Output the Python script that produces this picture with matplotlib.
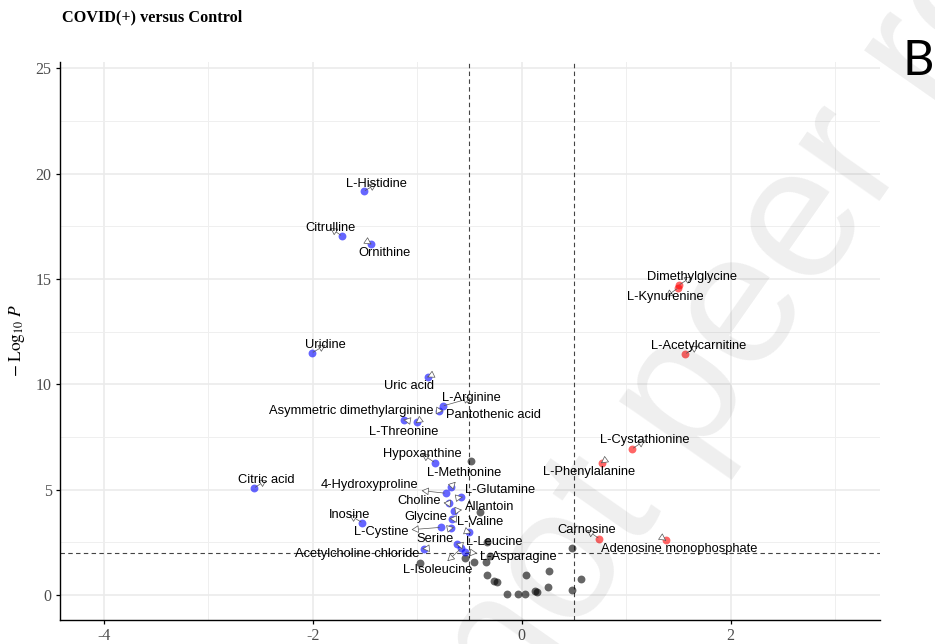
import matplotlib.pyplot as plt
import numpy as np

plt.rcParams['mathtext.fontset'] = 'stix'
plt.rcParams['axes.unicode_minus'] = False

# metabolites lower in COVID(+) (blue), higher (red), and not significant (grey)
down_names = ['L-Histidine', 'Citrulline', 'Ornithine', 'Uridine', 'Uric acid',
              'L-Arginine', 'Pantothenic acid', 'Asymmetric dimethylarginine',
              'L-Threonine', 'Hypoxanthine', 'Citric acid', 'L-Methionine',
              '4-Hydroxyproline', 'L-Glutamine', 'Choline', 'Allantoin', 'Glycine',
              'L-Valine', 'L-Cystine', 'Inosine', 'Serine', 'L-Leucine',
              'Acetylcholine chloride', 'L-Isoleucine', 'L-Asparagine']
down_fc = [-1.509, -1.72, -1.442, -2.007, -0.897, -0.756, -0.788, -1.126, -0.999,
           -0.83, -2.56, -0.677, -0.727, -0.58, -0.693, -0.645, -0.667, -0.674,
           -0.775, -1.525, -0.616, -0.507, -0.932, -0.581, -0.543]
down_logp = [19.17, 17.04, 16.66, 11.49, 10.35, 8.97, 8.75, 8.31, 8.21, 6.28, 5.08,
             5.14, 4.83, 4.64, 4.35, 4.0, 3.62, 3.18, 3.21, 3.43, 2.41, 2.98, 2.20,
             2.21, 2.04]

up_names = ['Dimethylglycine', 'L-Kynurenine', 'L-Acetylcarnitine', 'L-Cystathionine',
            'L-Phenylalanine', 'Carnosine', 'Adenosine monophosphate']
up_fc = [1.502, 1.496, 1.566, 1.058, 0.766, 0.743, 1.378]
up_logp = [14.70, 14.57, 11.44, 6.94, 6.28, 2.67, 2.60]

ns_fc = [-0.485, -0.396, -0.335, 0.484, -0.973, -0.543, -0.454, -0.342, -0.30,
         -0.335, -0.262, -0.24, 0.041, 0.264, -0.144, -0.032, 0.034, 0.127, 0.149,
         0.255, 0.484, 0.57]
ns_logp = [6.36, 3.95, 2.50, 2.25, 1.53, 1.77, 1.57, 1.55, 1.85, 0.95, 0.68, 0.62,
           0.96, 1.12, 0.03, 0.03, 0.03, 0.19, 0.16, 0.39, 0.24, 0.74]

fc_cut = 0.5
p_cut = 2.0

# label positions (data coordinates), same order as the names
down_text = [(-1.389, 19.51), (-1.83, 17.42), (-1.313, 16.23), (-1.877, 11.87),
             (-1.078, 9.92), (-0.485, 9.35), (-0.27, 8.54), (-1.633, 8.73),
             (-1.126, 7.74), (-0.954, 6.69), (-2.442, 5.46), (-0.552, 5.79),
             (-1.452, 5.22), (-0.203, 4.98), (-0.983, 4.48), (-0.308, 4.18),
             (-0.921, 3.70), (-0.40, 3.46), (-1.342, 2.99), (-1.648, 3.80),
             (-0.833, 2.66), (-0.258, 2.52), (-1.571, 1.95), (-0.801, 1.19),
             (-0.033, 1.80)]
up_text = [(1.627, 15.11), (1.378, 14.16), (1.69, 11.83), (1.18, 7.34),
           (0.644, 5.84), (0.625, 3.08), (1.505, 2.17)]

fig = plt.figure(figsize=(9.35, 6.44), dpi=100)
ax = fig.add_axes([60 / 935, 24 / 644, 820 / 935, 558 / 644])

ax.set_xlim(-4.418, 3.429)
ax.set_ylim(-1.187, 25.30)
ax.set_xticks([-4, -2, 0, 2])
ax.set_xticks([-3, -1, 1, 3], minor=True)
ax.set_yticks(np.arange(0, 26, 5))
ax.set_yticks(np.arange(2.5, 25, 5), minor=True)
ax.grid(which='major', color='#ebebeb', lw=1.2, zorder=0)
ax.grid(which='minor', color='#efefef', lw=0.7, zorder=0)
ax.set_axisbelow(True)

for side in ['top', 'right']:
    ax.spines[side].set_visible(False)
for side in ['left', 'bottom']:
    ax.spines[side].set_linewidth(1.0)
ax.tick_params(which='major', length=3, width=0.9, color='black',
               labelsize=11.5, labelcolor='#4d4d4d', pad=3)
ax.tick_params(which='minor', length=0)
for lab in ax.get_xticklabels() + ax.get_yticklabels():
    lab.set_family('Liberation Serif')

ax.axvline(-fc_cut, color='#444444', lw=0.8, ls=(0, (4, 3)), zorder=1)
ax.axvline(fc_cut, color='#444444', lw=0.8, ls=(0, (4, 3)), zorder=1)
ax.axhline(p_cut, color='#444444', lw=0.8, ls=(0, (4, 3)), zorder=1)

ax.scatter(ns_fc, ns_logp, s=32, color='black', alpha=0.6, lw=0, zorder=2)
ax.scatter(down_fc, down_logp, s=32, color='blue', alpha=0.6, lw=0, zorder=2)
ax.scatter(up_fc, up_logp, s=32, color='red', alpha=0.6, lw=0, zorder=2)

arrow_kw = dict(arrowstyle='<|-, head_length=0.55, head_width=0.3', fc='white',
                ec='#555555', lw=0.5, shrinkA=0, shrinkB=1, mutation_scale=8)
for names, xs, ys, pos in [(down_names, down_fc, down_logp, down_text),
                           (up_names, up_fc, up_logp, up_text)]:
    for name, x, y, (tx, ty) in zip(names, xs, ys, pos):
        ax.annotate(name, xy=(x, y), xytext=(tx, ty), textcoords='data',
                    ha='center', va='center', fontsize=9.3,
                    family='Liberation Sans', zorder=3, arrowprops=arrow_kw)

ax.set_ylabel(r'$-\;\mathrm{Log}_{10}\;P$', fontsize=12.5, color='black', labelpad=6)

fig.text(62 / 935, 1 - 17 / 644, 'COVID(+) versus Control', family='Liberation Serif',
         fontweight='bold', fontsize=11.7, ha='left', va='center')
fig.text(918 / 935, 1 - 75 / 644, 'B', family='Lato', fontsize=35,
         ha='center', va='baseline')

# preprint watermark
fig.text(514 / 935, 1 - 724 / 644, 'not peer reviewed', family='Liberation Sans',
         fontsize=135, color='black', alpha=0.065, rotation=55,
         rotation_mode='anchor', ha='left', va='baseline', zorder=10)

fig.savefig('out.png', dpi=100)
